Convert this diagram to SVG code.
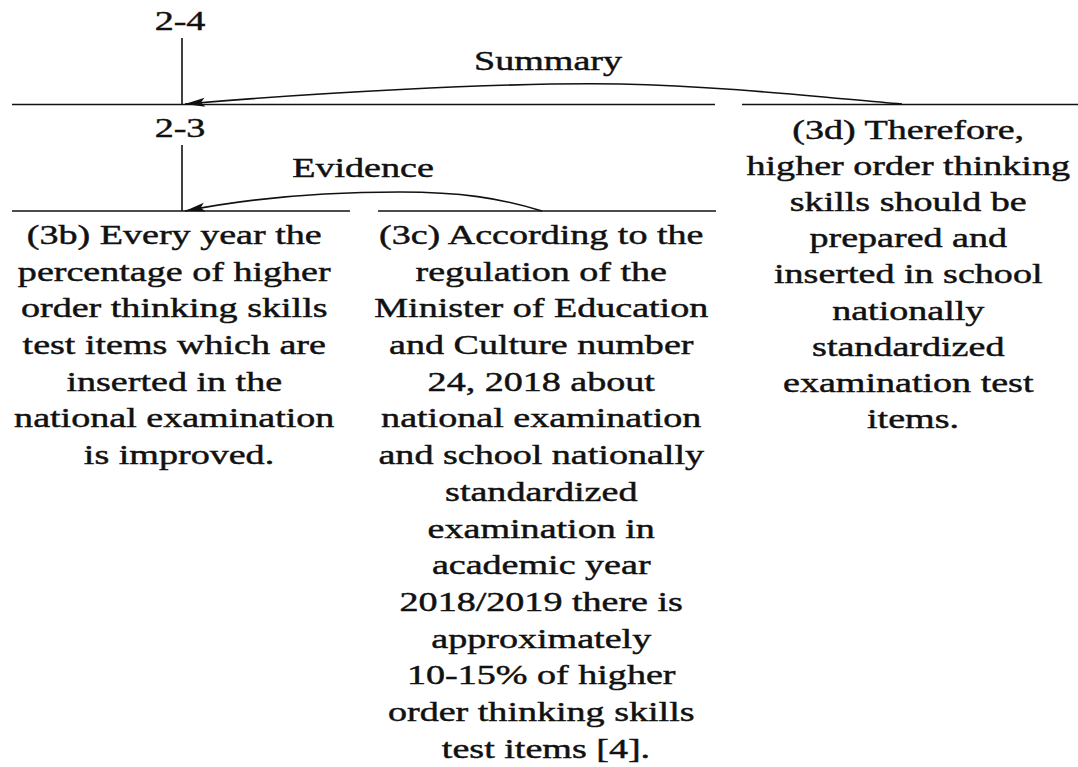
<svg xmlns="http://www.w3.org/2000/svg" width="1078" height="767" viewBox="0 0 1078 767">
<style>
.t{font-family:'Liberation Serif',serif;font-size:28px;fill:#111;stroke:#111;stroke-width:0.45;text-anchor:middle}
.ln{stroke:#111;stroke-width:1.6;fill:none}
</style>
<defs>
<marker id="ah" markerUnits="userSpaceOnUse" markerWidth="24" markerHeight="12" viewBox="-22 -6 24 12" refX="0" refY="0" orient="auto">
<path d="M0,0 L-20,-4.5 L-16,0 L-20,4.5 Z" fill="#111"/>
</marker>
</defs>
<rect width="1078" height="767" fill="#fff"/>
<g id="n24"><text class="t" transform="translate(180,0) scale(1.36,1)"><tspan x="0" y="30">2-4</tspan></text></g>
<g id="n23"><text class="t" transform="translate(180,0) scale(1.36,1)"><tspan x="0" y="137">2-3</tspan></text></g>
<g id="n3b">
<text class="t" transform="translate(179,0) scale(1.36,1)">
<tspan x="0" y="244">(3b) Every year the</tspan>
<tspan x="0" y="280.7">percentage of higher</tspan>
<tspan x="0" y="317.4">order thinking skills</tspan>
<tspan x="0" y="354.1">test items which are</tspan>
<tspan x="0" y="390.8">inserted in the</tspan>
<tspan x="0" y="427.5">national examination</tspan>
<tspan x="0" y="464.2">is improved.</tspan>
</text>
</g>
<g id="n3c">
<text class="t" transform="translate(546,0) scale(1.36,1)">
<tspan x="0" y="244">(3c) According to the</tspan>
<tspan x="0" y="280.7">regulation of the</tspan>
<tspan x="0" y="317.4">Minister of Education</tspan>
<tspan x="0" y="354.1">and Culture number</tspan>
<tspan x="0" y="390.8">24, 2018 about</tspan>
<tspan x="0" y="427.5">national examination</tspan>
<tspan x="0" y="464.2">and school nationally</tspan>
<tspan x="0" y="500.9">standardized</tspan>
<tspan x="0" y="537.6">examination in</tspan>
<tspan x="0" y="574.3">academic year</tspan>
<tspan x="0" y="611">2018/2019 there is</tspan>
<tspan x="0" y="647.7">approximately</tspan>
<tspan x="0" y="684.4">10-15% of higher</tspan>
<tspan x="0" y="721.1">order thinking skills</tspan>
<tspan x="0" y="757.8">test items [4].</tspan>
</text>
</g>
<g id="n3d">
<text class="t" transform="translate(913,0) scale(1.36,1)">
<tspan x="0" y="139">(3d) Therefore,</tspan>
<tspan x="0" y="175">higher order thinking</tspan>
<tspan x="0" y="211">skills should be</tspan>
<tspan x="0" y="247">prepared and</tspan>
<tspan x="0" y="283">inserted in school</tspan>
<tspan x="0" y="320">nationally</tspan>
<tspan x="0" y="356">standardized</tspan>
<tspan x="0" y="392">examination test</tspan>
<tspan x="0" y="428">items.</tspan>
</text>
</g>
<g id="connectors">
<line class="ln" x1="12" y1="104.5" x2="715" y2="104.5"/>
<line class="ln" x1="742" y1="104.5" x2="1078" y2="104.5"/>
<line class="ln" x1="12" y1="211" x2="350" y2="211"/>
<line class="ln" x1="378" y1="211" x2="716" y2="211"/>
<line class="ln" x1="182" y1="38" x2="182" y2="104.5"/>
<line class="ln" x1="182" y1="145" x2="182" y2="211"/>
<path class="ln" d="M902,104 C820,97 720,86 620,84 C500,82 300,94 185,104" marker-end="url(#ah)"/>
<text class="t" transform="translate(548,0) scale(1.36,1)"><tspan x="0" y="70">Summary</tspan></text>
<path class="ln" d="M542,211 C500,198 460,192 400,192 C320,192 250,198 185,211" marker-end="url(#ah)"/>
<text class="t" transform="translate(363,0) scale(1.36,1)"><tspan x="0" y="177">Evidence</tspan></text>
</g>
</svg>
